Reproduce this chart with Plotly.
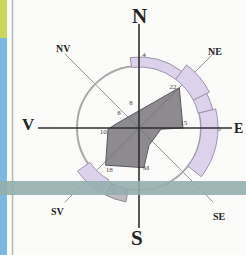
import plotly.graph_objects as go

# ---- data (radial units: the reference circle = 62) ----
circle_r = [62]
diag_dirs = [45, 135, 225, 315]

card_theta = [0, 90, 180, 270]
card_len = [104, 93, 100, 101]

# purple frequency band segments
band_theta = [15, 50, 69.5, 102, 222.5]
band_width = [44, 26, 13, 52, 25]
band_base = [61, 61, 61, 62, 60]
band_top = [71, 79, 76, 79, 75]

# gray segment (SSW)
gray_theta = [198.5]
gray_width = [17]
gray_base = [62]
gray_top = [75]

# wind-rose polygon
poly_theta = [45, 90, 93, 150, 173, 222, 268, 283, 45]
poly_r = [57, 44, 22, 20, 40, 50, 31, 22, 57]

# small value labels
val_text = ["22", "15", "10", "18", "M", "8", "8", "5", "4"]
val_theta = [40, 84, 264, 215, 170, 342, 307, 91, 4]
val_r = [53, 45, 36, 52, 41, 26, 25, 80, 73]

# direction labels
dir_text = ["N", "S", "V", "E", "NV", "NE", "SV", "SE"]

W, H = 246, 255
cx, cy, R = 139, 128, 105

fig = go.Figure()

fig.add_trace(go.Barpolar(
    theta=band_theta, r=[t - b for t, b in zip(band_top, band_base)], base=band_base,
    width=band_width, marker=dict(color="#ddd2ec", line=dict(color="#9d93ad", width=1)),
    hoverinfo="skip"))
fig.add_trace(go.Barpolar(
    theta=gray_theta, r=[t - b for t, b in zip(gray_top, gray_base)], base=gray_base,
    width=gray_width, marker=dict(color="#bdbac0", line=dict(color="#8a8790", width=1)),
    hoverinfo="skip"))

fig.add_trace(go.Scatterpolar(
    theta=poly_theta, r=poly_r, mode="lines", fill="toself",
    fillcolor="rgba(112,108,114,0.78)", line=dict(color="#5a585c", width=1),
    hoverinfo="skip"))

for th, ln in zip(card_theta, card_len):
    fig.add_trace(go.Scatterpolar(theta=[th, th], r=[0, ln], mode="lines",
                                  line=dict(color="#2e2e2e", width=1.6), hoverinfo="skip"))

fig.add_trace(go.Scatterpolar(
    theta=val_theta, r=val_r, mode="text", text=val_text,
    textfont=dict(family="Liberation Serif", size=7, color="#444444"), hoverinfo="skip"))

fig.update_layout(
    width=W, height=H, autosize=False, showlegend=False,
    margin=dict(l=0, r=0, t=0, b=0),
    paper_bgcolor="#fbfbf9",
    polar=dict(
        domain=dict(x=[(cx - R) / W, (cx + R) / W], y=[(H - cy - R) / H, (H - cy + R) / H]),
        bgcolor="rgba(0,0,0,0)",
        radialaxis=dict(range=[0, R], tickvals=circle_r, showticklabels=False, ticks="",
                        showline=False, gridcolor="#a8a8a8", gridwidth=2),
        angularaxis=dict(rotation=90, direction="clockwise", tickvals=diag_dirs,
                         showticklabels=False, ticks="", showline=False,
                         gridcolor="#9a9a9a", gridwidth=1),
    ),
)

pos = [(139, 16), (137, 238), (28, 124), (238, 128), (63, 49), (215, 52), (58, 211), (219, 216)]
sizes = [21, 21, 17, 14, 10, 10, 10, 10]
for t, (x, y), s in zip(dir_text, pos, sizes):
    fig.add_annotation(x=x / W, y=1 - y / H, xref="paper", yref="paper", text=f"<b>{t}</b>",
                       showarrow=False, font=dict(family="Liberation Serif", size=s, color="#222"),
                       xanchor="center", yanchor="middle")

# scan artefacts: coloured left edge, margin line, horizontal teal strip
fig.add_shape(type="rect", xref="paper", yref="paper", x0=0, x1=7 / W, y0=1 - 38 / H, y1=1,
              fillcolor="#c9d85a", line_width=0, layer="above")
fig.add_shape(type="rect", xref="paper", yref="paper", x0=0, x1=7 / W, y0=0, y1=1 - 38 / H,
              fillcolor="#7db8e0", line_width=0, layer="above")
fig.add_shape(type="line", xref="paper", yref="paper", x0=12.5 / W, x1=12.5 / W, y0=0, y1=1,
              line=dict(color="#b5b5b5", width=1.5), layer="above")
fig.add_shape(type="rect", xref="paper", yref="paper", x0=0, x1=1, y0=1 - 195 / H, y1=1 - 181 / H,
              fillcolor="rgba(148,174,174,0.9)", line_width=0, layer="above")

fig.write_html("out.html", config={"displayModeBar": False},
               post_script="document.body.style.margin='0px';")
